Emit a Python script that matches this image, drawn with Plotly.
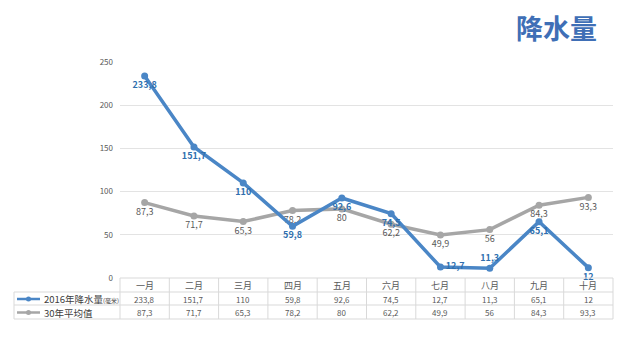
import plotly.graph_objects as go

months = ["一月", "二月", "三月", "四月", "五月", "六月", "七月", "八月", "九月", "十月"]
rain_2016 = [233.8, 151.7, 110, 59.8, 92.6, 74.5, 12.7, 11.3, 65.1, 12]
avg_30 = [87.3, 71.7, 65.3, 78.2, 80, 62.2, 49.9, 56, 84.3, 93.3]
y_ticks = [0, 50, 100, 150, 200, 250]
series_names = ["2016年降水量", "30年平均值"]
unit_label = "(毫米)"
title_text = "降水量"

W, H = 640, 340
L, R, T, B = 120, 27, 62, 62
PH = H - T - B
PW = W - L - R

def fmt(v):
    return (("%g" % v)).replace(".", ",")

def py(px):  # pixel y -> paper y
    return (H - B - px) / PH

def pxp(px):  # pixel x -> paper x
    return (px - L) / PW

BLUE = "#4a86c6"
BLUE_TXT = "#2f6fae"
GRAY = "#a6a6a6"
GRAY_TXT = "#595959"
FONT = "Noto Sans CJK SC, Noto Sans, sans-serif"

pos_2016 = ["bottom center"] * 6 + ["middle right", "top center", "bottom center", "bottom center"]

fig = go.Figure()
fig.add_trace(go.Scatter(
    x=months, y=avg_30, mode="lines+markers+text",
    line=dict(color=GRAY, width=3.5), marker=dict(size=7, color=GRAY),
    text=[fmt(v) for v in avg_30], textposition="bottom center",
    textfont=dict(size=9, color=GRAY_TXT, family=FONT),
    cliponaxis=False, showlegend=False,
))
fig.add_trace(go.Scatter(
    x=months, y=rain_2016, mode="lines+markers+text",
    line=dict(color=BLUE, width=3.5), marker=dict(size=7, color=BLUE),
    text=["<b>%s</b>" % fmt(v) for v in rain_2016], textposition=pos_2016,
    textfont=dict(size=9, color=BLUE_TXT, family=FONT),
    cliponaxis=False, showlegend=False,
))

shapes = []
ann = []
line_c = "#d9d9d9"
row_y = [278, 292, 305, 319]
# horizontal table lines
shapes.append(dict(type="line", xref="paper", yref="paper", x0=0, x1=1, y0=py(row_y[0]), y1=py(row_y[0]),
                   line=dict(color=line_c, width=1)))
for yy in row_y[1:]:
    shapes.append(dict(type="line", xref="paper", yref="paper", x0=pxp(14), x1=1, y0=py(yy), y1=py(yy),
                       line=dict(color=line_c, width=1)))
# vertical lines
for k in range(len(months) + 1):
    shapes.append(dict(type="line", xref="paper", yref="paper", x0=k / len(months), x1=k / len(months),
                       y0=py(row_y[0]), y1=py(row_y[3]), line=dict(color=line_c, width=1)))
shapes.append(dict(type="line", xref="paper", yref="paper", x0=pxp(14), x1=pxp(14),
                   y0=py(row_y[1]), y1=py(row_y[3]), line=dict(color=line_c, width=1)))

# header row and value rows
for i, m in enumerate(months):
    ann.append(dict(x=m, xref="x", yref="paper", y=py(285.5), text=m, showarrow=False,
                    xanchor="center", yanchor="middle",
                    font=dict(size=9, color=GRAY_TXT, family=FONT)))
    ann.append(dict(x=m, xref="x", yref="paper", y=py(299), text=fmt(rain_2016[i]), showarrow=False,
                    xanchor="center", yanchor="middle",
                    font=dict(size=8, color=GRAY_TXT, family=FONT)))
    ann.append(dict(x=m, xref="x", yref="paper", y=py(312.5), text=fmt(avg_30[i]), showarrow=False,
                    xanchor="center", yanchor="middle",
                    font=dict(size=8, color=GRAY_TXT, family=FONT)))

# legend keys in table
for yy, col in [(299, BLUE), (312.5, GRAY)]:
    shapes.append(dict(type="line", xref="paper", yref="paper", x0=pxp(17), x1=pxp(40), y0=py(yy), y1=py(yy),
                       line=dict(color=col, width=2.5)))
    shapes.append(dict(type="circle", xref="paper", yref="paper", x0=pxp(26), x1=pxp(31),
                       y0=py(yy + 2.5), y1=py(yy - 2.5), fillcolor=col, line=dict(color=col, width=0)))
ann.append(dict(xref="paper", yref="paper", x=pxp(42), y=py(299), xanchor="left", yanchor="middle",
                text="%s<span style='font-size:6px'>%s</span>" % (series_names[0], unit_label),
                showarrow=False, font=dict(size=9.5, color="#404040", family=FONT)))
ann.append(dict(xref="paper", yref="paper", x=pxp(42), y=py(312.5), xanchor="left", yanchor="middle",
                text=series_names[1],
                showarrow=False, font=dict(size=9.5, color="#404040", family=FONT)))

# title
ann.append(dict(xref="paper", yref="paper", x=pxp(556), y=py(28), text="<b>%s</b>" % title_text,
                xanchor="center", yanchor="middle",
                showarrow=False, font=dict(size=27, color="#3f6fb6", family=FONT)))

fig.update_layout(
    width=W, height=H, margin=dict(l=L, r=R, t=T, b=B),
    paper_bgcolor="white", plot_bgcolor="white",
    font=dict(family=FONT),
    xaxis=dict(type="category", range=[-0.5, len(months) - 0.5], showticklabels=False,
               showgrid=False, zeroline=False, showline=False, ticks=""),
    yaxis=dict(range=[0, 250], tickvals=y_ticks, showgrid=True, gridcolor="#e3e3e3", gridwidth=1,
               zeroline=False, showline=False, ticks="", ticklabelstandoff=6,
               tickfont=dict(size=8, color=GRAY_TXT, family=FONT)),
    shapes=shapes, annotations=ann,
)
fig.write_html("out.html")
